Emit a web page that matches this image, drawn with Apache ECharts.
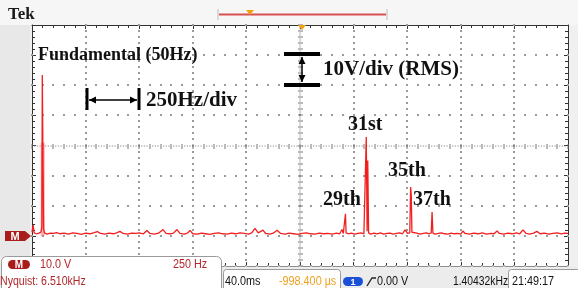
<!DOCTYPE html>
<html><head><meta charset="utf-8">
<script src="https://cdn.jsdelivr.net/npm/echarts@6/dist/echarts.min.js"></script>
<style>html,body{margin:0;padding:0;background:#f0f0f0}#c{width:578px;height:288px}</style>
</head><body><div id="c"></div>
<script>
// ---- data ----
const freqRange = [0, 2500];          // Hz, 250 Hz/div
const freqStep = 250;
const voltRange = [-10, 70];          // V RMS, 10 V/div
const voltStep = 10;
const freqGridLines = [250, 500, 750, 1000, 1500, 1750, 2000, 2250];
const freqCenterLine = [1250];
const voltGridLines = [-10, 0, 10, 20, 40, 50, 60];
const voltCenterLine = [30];
// spectrum trace: [frequency Hz, amplitude V]
const spectrum = [
 [0,1.2],[5,3.6],[10,1.0],[20,0.7],[32,0.9],[42,1.3],[46,3.0],[48,53.4],[51,53.4],[54,2.5],[58,1.0],
 [70,0.6],[85,0.9],[100,0.8],[115,1.1],[130,0.7],[150,0.9],[170,0.6],[190,1.0],[210,0.8],[230,0.5],
 [250,0.9],[270,0.7],[290,1.1],[305,1.4],[320,0.8],[340,0.6],[360,0.9],[380,0.7],[395,1.0],[410,1.5],
 [425,0.8],[445,0.6],[465,0.9],[485,0.8],[500,1.0],[520,0.7],[536,1.8],[550,0.8],[570,0.6],[590,0.9],
 [611,2.1],[625,0.8],[645,0.7],[660,0.9],[676,2.1],[690,0.8],[710,0.6],[725,0.9],[737,1.8],[750,0.7],
 [770,0.6],[790,0.9],[810,0.7],[830,0.5],[850,0.8],[870,1.0],[890,0.7],[910,0.6],[930,0.9],[950,0.7],
 [970,1.0],[990,0.8],[1010,0.6],[1025,1.0],[1040,2.5],[1055,1.0],[1077,1.9],[1090,0.8],[1110,0.6],
 [1125,0.9],[1143,1.9],[1160,0.8],[1180,0.6],[1200,0.9],[1220,0.7],[1240,0.5],[1260,0.8],[1280,1.0],
 [1300,0.7],[1320,0.6],[1340,0.9],[1360,0.7],[1380,0.8],[1400,0.6],[1420,0.9],[1435,0.7],[1446,2.1],
 [1452,0.8],[1459,1.0],[1462,7.3],[1465,1.0],[1475,0.7],[1490,0.9],[1505,0.6],[1520,0.8],[1535,1.0],
 [1548,0.7],[1555,1.0],[1559,32.8],[1563,1.5],[1566,25.0],[1570,1.0],[1580,0.6],[1595,0.9],[1610,0.7],
 [1625,1.0],[1640,0.6],[1655,0.8],[1670,0.9],[1685,0.6],[1700,0.8],[1715,1.0],[1728,0.7],[1740,2.0],
 [1752,0.8],[1762,1.0],[1766,16.2],[1769,13.5],[1772,1.2],[1780,0.7],[1795,0.9],[1810,0.6],[1825,0.8],
 [1840,1.0],[1852,0.7],[1862,1.0],[1866,7.9],[1870,0.9],[1880,0.6],[1895,0.8],[1910,1.0],[1925,0.7],
 [1940,0.6],[1955,0.9],[1970,0.7],[1985,0.8],[2000,0.6],[2010,1.6],[2020,0.8],[2040,0.6],[2060,0.9],
 [2080,0.7],[2100,1.0],[2120,0.6],[2140,0.8],[2155,0.7],[2169,1.6],[2180,0.8],[2200,0.6],[2220,0.9],
 [2240,0.7],[2260,1.0],[2275,0.7],[2290,2.0],[2305,0.8],[2320,0.6],[2340,0.9],[2355,1.5],[2370,0.7],
 [2390,0.9],[2410,0.6],[2430,0.8],[2450,1.0],[2470,0.7],[2485,0.9],[2500,0.8]
];
const fundamentalBand = [[50, 31]];   // broad averaged part of the fundamental
const annotations = ['Fundamental (50Hz)', '250Hz/div', '10V/div (RMS)', '31st', '35th', '29th', '37th'];
const statusLeft = ['10.0 V', '250 Hz', 'Nyquist: 6.510kHz'];
const statusRight = ['40.0ms', '-998.400 µs', '0.00 V', '1.40432kHz', '21:49:17'];

// graticule items: [value, kind]  kind 0 = vertical, 1 = horizontal, 2 = centre vertical, 3 = centre horizontal
const graticule = freqGridLines.map(f => [f, 0])
  .concat(voltGridLines.map(v => [v, 1]))
  .concat(freqCenterLine.map(f => [f, 2]))
  .concat(voltCenterLine.map(v => [v, 3]));

// ---- chart ----
const chart = echarts.init(document.getElementById('c'), null, {renderer: 'canvas'});
const G = {left: 32, right: 10, top: 25, bottom: 22};
const edgeAxis = (extra) => Object.assign({
  type: 'value', axisLabel: {show: false},
  axisLine: {show: true, onZero: false, lineStyle: {color: '#333', width: 1}},
  axisTick: {show: true, inside: true, length: 4, lineStyle: {color: '#333'}},
  minorTick: {show: true, splitNumber: 5, length: 3, lineStyle: {color: '#333'}},
  splitLine: {show: false}
}, extra);

function renderGraticule(params, api) {
  const cs = params.coordSys;
  const v = api.value(0), kind = api.value(1);
  const ch = [];
  const dot = (x, y, w, h, c) => ch.push({type: 'rect', shape: {x: x, y: y, width: w, height: h}, style: {fill: c}});
  if (kind === 0 || kind === 2) {
    const px = Math.round(api.coord([v, voltRange[0]])[0]);
    const step = cs.height / 40;
    for (let i = 0; i <= 40; i++) {
      const py = Math.round(cs.y + i * step);
      if (kind === 0) dot(px - 1, py - 1, 2, 2, '#9a9a9a');
      else {
        dot(px - 2, py - 0.5, 5, 1, '#777');
        if (i < 40) { dot(px - 0.6, py + step / 3 - 0.6, 1.2, 1.2, '#888'); dot(px - 0.6, py + 2 * step / 3 - 0.6, 1.2, 1.2, '#888'); }
      }
    }
  } else {
    const py = Math.round(api.coord([freqRange[0], v])[1]);
    const step = cs.width / 50;
    for (let i = 0; i <= 50; i++) {
      const px = Math.round(cs.x + i * step);
      if (kind === 1) dot(px - 1, py - 1, 2, 2, '#9a9a9a');
      else {
        dot(px - 0.5, py - 2, 1, 5, '#777');
        if (i < 50) { for (let k = 1; k < 4; k++) dot(px + k * step / 4 - 0.6, py - 0.6, 1.2, 1.2, '#888'); }
      }
    }
  }
  return {type: 'group', children: ch};
}

const option = {
  animation: false,
  backgroundColor: '#f0f0f0',
  grid: [Object.assign({show: true, backgroundColor: '#fff', borderWidth: 0}, G)],
  xAxis: [
    edgeAxis({gridIndex: 0, position: 'bottom', min: freqRange[0], max: freqRange[1], interval: freqStep}),
    edgeAxis({gridIndex: 0, position: 'top', min: freqRange[0], max: freqRange[1], interval: freqStep})
  ],
  yAxis: [
    edgeAxis({gridIndex: 0, position: 'left', min: voltRange[0], max: voltRange[1], interval: voltStep}),
    edgeAxis({gridIndex: 0, position: 'right', min: voltRange[0], max: voltRange[1], interval: voltStep})
  ],
  series: [
    {type: 'custom', xAxisIndex: 0, yAxisIndex: 0, data: graticule, renderItem: renderGraticule,
      silent: true, z: 2, clip: false},
    {type: 'bar', xAxisIndex: 0, yAxisIndex: 0, data: fundamentalBand, barWidth: 4,
      itemStyle: {color: 'rgba(255,90,90,0.5)'}, silent: true, z: 3},
    {type: 'line', xAxisIndex: 0, yAxisIndex: 0, data: spectrum, symbol: 'none', sampling: null,
      lineStyle: {color: '#f02020', width: 1.3}, z: 4, silent: true}
  ]
};
chart.setOption(option);

const base = chart.convertToPixel({xAxisIndex: 0, yAxisIndex: 0}, [0, 0]);
const serif = '"Liberation Serif","Times New Roman",serif';
const sans = '"Liberation Sans Narrow","Liberation Sans",Arial,sans-serif';
function txt(t, x, baseline, size, weight, family, color, align, sx) {
  return {type: 'text', x: x, y: baseline - size * 0.34, z: 50, scaleX: sx || 1,
    style: {text: t, font: weight + ' ' + size + 'px ' + family, fill: color,
      align: align || 'left', verticalAlign: 'middle'}};
}
function rect(x, y, w, h, fill, stroke, r) {
  return {type: 'rect', z: 40, shape: {x: x, y: y, width: w, height: h, r: r || 0},
    style: {fill: fill, stroke: stroke || null, lineWidth: 1}};
}
function line(x1, y1, x2, y2, w, c) {
  return {type: 'line', z: 45, shape: {x1: x1, y1: y1, x2: x2, y2: y2}, style: {stroke: c, lineWidth: w}};
}
function poly(pts, c) {
  return {type: 'polygon', z: 45, shape: {points: pts}, style: {fill: c}};
}
const g = [];
// left gray strip
g.push(Object.assign(rect(0, 25, 30, 232, '#e8e8e8'), {z: -10}));
// header
g.push(Object.assign(rect(0, 0, 578, 25, '#f6f6f6'), {z: -10}));
g.push(txt('Tek', 8, 20, 17, 'bold', serif, '#1a1a1a'));
g.push(line(219, 14.5, 386, 14.5, 2, '#d85050'));
g.push(line(218, 9, 218, 20, 1, '#bbb'));
g.push(line(387, 9, 387, 20, 1, '#bbb'));
g.push(poly([[246, 10], [254, 10], [250, 15]], '#f0a010'));
g.push(poly([[298, 25], [306, 25], [302, 30]], '#f0a010'));
// M marker at 0 V
g.push(poly([[5, base[1] - 5], [25, base[1] - 5], [31, base[1]], [25, base[1] + 5], [5, base[1] + 5]], '#a81c1c'));
g.push(txt('M', 15, base[1] + 4.5, 11, 'bold', sans, '#fff', 'center'));
// annotations
g.push(txt(annotations[0], 38, 61, 18, 'bold', serif, '#111'));
g.push(txt(annotations[1], 146, 108, 21, 'bold', serif, '#111'));
g.push(txt(annotations[2], 323, 77, 21, 'bold', serif, '#111'));
g.push(txt(annotations[3], 348, 132, 20, 'bold', serif, '#111'));
g.push(txt(annotations[4], 388, 178, 20, 'bold', serif, '#111'));
g.push(txt(annotations[5], 323, 207, 20, 'bold', serif, '#111'));
g.push(txt(annotations[6], 413, 207, 20, 'bold', serif, '#111'));
// 250 Hz/div arrow
g.push(line(87, 88, 87, 110, 3, '#000'));
g.push(line(139, 88, 139, 110, 3, '#000'));
g.push(line(89, 100, 137, 100, 1.5, '#000'));
g.push(poly([[89, 100], [96, 96.5], [96, 103.5]], '#000'));
g.push(poly([[137, 100], [130, 96.5], [130, 103.5]], '#000'));
// 10 V/div arrow
g.push(line(284, 54, 320, 54, 4, '#000'));
g.push(line(284, 85, 320, 85, 4, '#000'));
g.push(line(302, 57, 302, 82, 1.5, '#000'));
g.push(poly([[302, 57], [298.5, 64], [305.5, 64]], '#000'));
g.push(poly([[302, 82], [298.5, 75], [305.5, 75]], '#000'));
// bottom status area
g.push(rect(0, 266.5, 578, 22, '#ececec'));
g.push(rect(1.5, 256.5, 220, 40, '#fff', '#9a9a9a', 5));
g.push(rect(8, 260, 22, 9, '#a81c1c', null, 4.5));
g.push(txt('M', 19, 268.5, 10, 'bold', sans, '#fff', 'center'));
g.push(txt(statusLeft[0], 40, 269, 12, 'normal', sans, '#b3262b', 'left', 0.9));
g.push(txt(statusLeft[1], 173, 269, 12, 'normal', sans, '#b3262b', 'left', 0.9));
g.push(txt(statusLeft[2], 0, 286, 12, 'normal', sans, '#b3262b', 'left', 0.88));
g.push(rect(223.5, 269.5, 117, 24, '#fff', '#9a9a9a', 3));
g.push(txt(statusRight[0], 225, 286, 12, 'normal', sans, '#111', 'left', 0.9));
g.push(txt(statusRight[1], 279, 286, 12, 'normal', sans, '#f0a020', 'left', 0.9));
g.push(rect(343, 277, 20, 9, '#1a50d8', null, 4.5));
g.push(txt('1', 353, 285.5, 9, 'bold', sans, '#fff', 'center'));
g.push({type: 'polyline', z: 45, shape: {points: [[367, 286], [372, 278], [376, 278]]}, style: {stroke: '#222', lineWidth: 1.3, fill: null}});
g.push(txt(statusRight[2], 377, 286, 12, 'normal', sans, '#111', 'left', 0.9));
g.push(txt(statusRight[3], 453, 286, 12, 'normal', sans, '#111', 'left', 0.86));
g.push(rect(508.5, 269.5, 72, 24, '#fff', '#9a9a9a', 3));
g.push(txt(statusRight[4], 512, 286, 12, 'normal', sans, '#111', 'left', 0.9));
chart.setOption({graphic: {elements: g}});
</script>
</body></html>
